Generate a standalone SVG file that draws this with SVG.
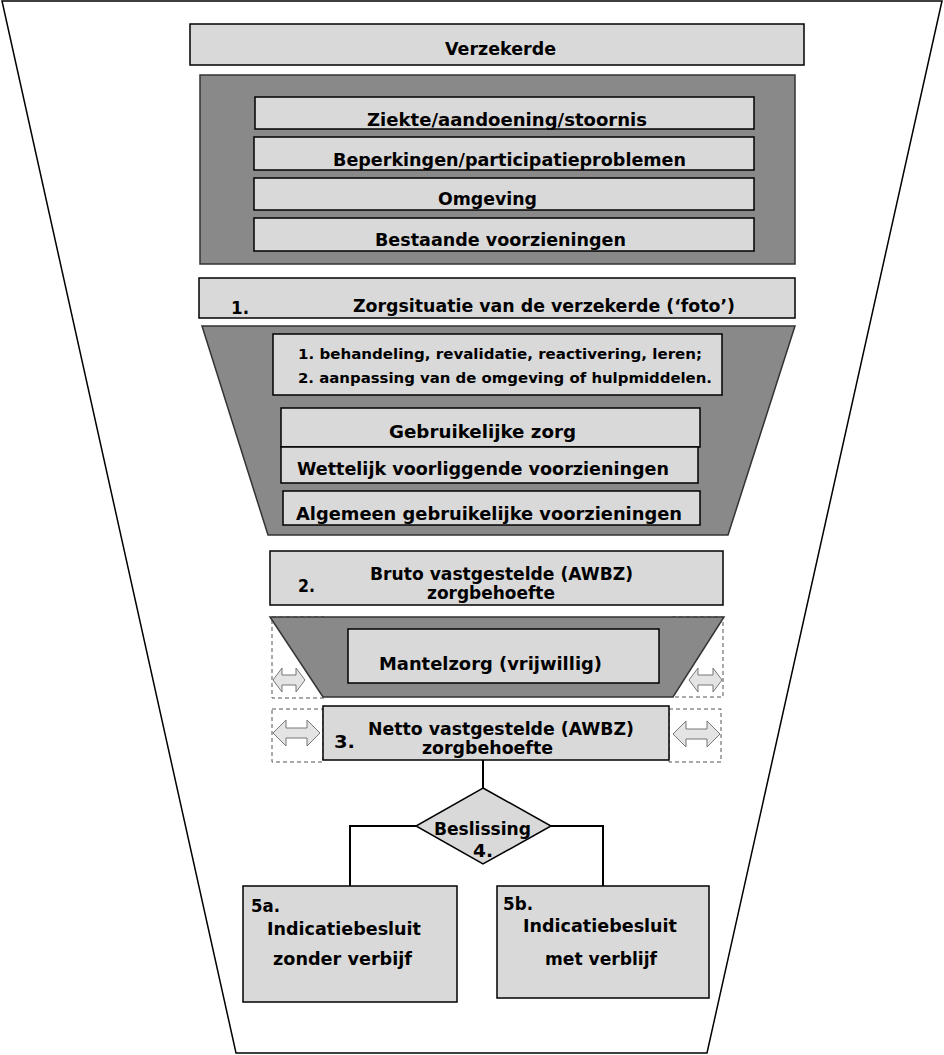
<svg xmlns="http://www.w3.org/2000/svg" width="944" height="1055" viewBox="0 0 944 1055">
<style>
  text { font-family: "DejaVu Sans", Verdana, "Liberation Sans", sans-serif; font-weight: bold; fill: #000; }
  .box { fill: #d9d9d9; stroke: #000; stroke-width: 1.5; }
  .dark { fill: #898989; stroke: #333; stroke-width: 1.5; }
  .dash { fill: #fff; stroke: #555; stroke-width: 1; stroke-dasharray: 4 3; }
  .arrow { fill: #e4e4e4; stroke: #777; stroke-width: 1; }
  .conn { fill: none; stroke: #000; stroke-width: 2; }
  .f16 { font-size: 17px; }
  .f17 { font-size: 18px; }
  .f13 { font-size: 14px; }
</style>
<rect width="944" height="1055" fill="#fff"/>
<g id="funnel">
  <polygon points="2,1 942,1 707,1053 236,1053" fill="#fff" stroke="#000" stroke-width="1.5"/>
</g>
<g id="verzekerde">
  <rect class="box" x="190" y="24" width="614" height="41"/>
  <text class="f16" x="445" y="55" textLength="111" lengthAdjust="spacingAndGlyphs">Verzekerde</text>
</g>
<g id="situatie">
  <rect class="dark" x="200" y="75" width="595" height="189"/>
  <g id="ziekte">
    <rect class="box" x="255" y="97" width="499" height="32"/>
    <text class="f16" x="367" y="126" textLength="280" lengthAdjust="spacingAndGlyphs">Ziekte/aandoening/stoornis</text>
  </g>
  <g id="beperkingen">
    <rect class="box" x="254" y="137" width="500" height="33"/>
    <text class="f16" x="333" y="166" textLength="353" lengthAdjust="spacingAndGlyphs">Beperkingen/participatieproblemen</text>
  </g>
  <g id="omgeving">
    <rect class="box" x="254" y="178" width="500" height="32"/>
    <text class="f16" x="438" y="205" textLength="99" lengthAdjust="spacingAndGlyphs">Omgeving</text>
  </g>
  <g id="bestaande">
    <rect class="box" x="254" y="218" width="500" height="33"/>
    <text class="f16" x="375" y="246" textLength="251" lengthAdjust="spacingAndGlyphs">Bestaande  voorzieningen</text>
  </g>
</g>
<g id="zorgsituatie">
  <rect class="box" x="199" y="278" width="596" height="40"/>
  <text class="f16" x="231" y="314" textLength="18" lengthAdjust="spacingAndGlyphs">1.</text>
  <text class="f16" x="353" y="312" textLength="382" lengthAdjust="spacingAndGlyphs">Zorgsituatie van de verzekerde (‘foto’)</text>
</g>
<g id="filter1">
  <polygon class="dark" points="202,326 795,326 728,535 268,535"/>
  <g id="behandeling">
    <rect class="box" x="273" y="334" width="449" height="61"/>
    <text class="f13" x="298" y="359" textLength="404" lengthAdjust="spacingAndGlyphs">1. behandeling, revalidatie, reactivering, leren;</text>
    <text class="f13" x="298" y="383" textLength="414" lengthAdjust="spacingAndGlyphs">2. aanpassing van de omgeving of hulpmiddelen.</text>
  </g>
  <g id="gebruikelijke">
    <rect class="box" x="281" y="408" width="419" height="39"/>
    <text class="f16" x="389" y="438" textLength="187" lengthAdjust="spacingAndGlyphs">Gebruikelijke  zorg</text>
  </g>
  <g id="wettelijk">
    <rect class="box" x="281" y="447" width="417" height="36"/>
    <text class="f16" x="297" y="475" textLength="372" lengthAdjust="spacingAndGlyphs">Wettelijk  voorliggende voorzieningen</text>
  </g>
  <g id="algemeen">
    <rect class="box" x="283" y="491" width="417" height="34"/>
    <text class="f16" x="296" y="520" textLength="386" lengthAdjust="spacingAndGlyphs">Algemeen  gebruikelijke  voorzieningen</text>
  </g>
</g>
<g id="bruto">
  <rect class="box" x="270" y="551" width="453" height="54"/>
  <text class="f17" x="298" y="592" textLength="17" lengthAdjust="spacingAndGlyphs">2.</text>
  <text class="f17" x="370" y="580" textLength="263" lengthAdjust="spacingAndGlyphs">Bruto vastgestelde (AWBZ)</text>
  <text class="f17" x="427" y="599" textLength="128" lengthAdjust="spacingAndGlyphs">zorgbehoefte</text>
</g>
<g id="side-arrows">
  <rect class="dash" x="272" y="617" width="52" height="81"/>
  <rect class="dash" x="672" y="617" width="51" height="80"/>
  <rect class="dash" x="272" y="709" width="51" height="53"/>
  <rect class="dash" x="669" y="709" width="52" height="53"/>
  <polygon class="arrow" points="273,680 282,668 282,675 296,675 296,668 305,680 296,692 296,685 282,685 282,692"/>
  <polygon class="arrow" points="689,680 698,668 698,675 713,675 713,668 722,680 713,692 713,685 698,685 698,692"/>
  <polygon class="arrow" points="273,733 286,720 286,728 307,728 307,720 320,733 307,746 307,738 286,738 286,746"/>
  <polygon class="arrow" points="673,734 686,721 686,729 707,729 707,721 720,734 707,747 707,739 686,739 686,747"/>
</g>
<g id="filter2">
  <polygon class="dark" points="270,617 724,617 673,697 323,697"/>
  <g id="mantelzorg">
    <rect class="box" x="348" y="629" width="311" height="54"/>
    <text class="f17" x="379" y="670" textLength="223" lengthAdjust="spacingAndGlyphs">Mantelzorg  (vrijwillig)</text>
  </g>
</g>
<g id="netto">
  <rect class="box" x="323" y="706" width="346" height="54"/>
  <text class="f17" x="334" y="748" textLength="21" lengthAdjust="spacingAndGlyphs">3.</text>
  <text class="f17" x="368" y="735" textLength="266" lengthAdjust="spacingAndGlyphs">Netto vastgestelde (AWBZ)</text>
  <text class="f17" x="422" y="754" textLength="131" lengthAdjust="spacingAndGlyphs">zorgbehoefte</text>
</g>
<g id="connectors">
  <path class="conn" d="M483,760 V788"/>
  <path class="conn" d="M416,826 H350 V886"/>
  <path class="conn" d="M551,826 H603 V886"/>
</g>
<g id="beslissing">
  <polygon points="483,788 551,826 483,864 416,826" fill="#d9d9d9" stroke="#000" stroke-width="1.5"/>
  <text class="f16" x="434" y="835" textLength="97" lengthAdjust="spacingAndGlyphs">Beslissing</text>
  <text class="f16" x="473" y="857" textLength="20" lengthAdjust="spacingAndGlyphs">4.</text>
</g>
<g id="besluit5a">
  <rect class="box" x="243" y="886" width="214" height="116" stroke-width="2"/>
  <text class="f16" x="251" y="912" textLength="29" lengthAdjust="spacingAndGlyphs">5a.</text>
  <text class="f17" x="267" y="935" textLength="154" lengthAdjust="spacingAndGlyphs">Indicatiebesluit</text>
  <text class="f17" x="273" y="965" textLength="139" lengthAdjust="spacingAndGlyphs">zonder verbijf</text>
</g>
<g id="besluit5b">
  <rect class="box" x="497" y="886" width="212" height="112" stroke-width="2"/>
  <text class="f16" x="503" y="910" textLength="30" lengthAdjust="spacingAndGlyphs">5b.</text>
  <text class="f17" x="523" y="932" textLength="154" lengthAdjust="spacingAndGlyphs">Indicatiebesluit</text>
  <text class="f17" x="545" y="965" textLength="112" lengthAdjust="spacingAndGlyphs">met verblijf</text>
</g>
</svg>
